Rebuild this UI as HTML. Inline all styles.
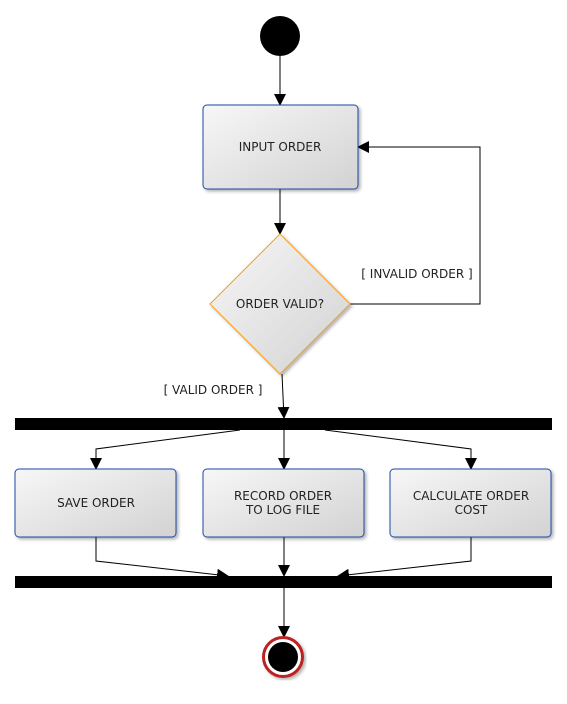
<!DOCTYPE html>
<html><head><style>body{margin:0;background:#fff}svg{display:block}text{font-family:"DejaVu Sans","Liberation Sans",sans-serif;font-size:12px;fill:#222}</style></head><body>
<svg width="567" height="704" viewBox="0 0 567 704">
<defs>
<linearGradient id="g" x1="0" y1="0" x2="1" y2="1"><stop offset="0" stop-color="#f7f7f7"/><stop offset="1" stop-color="#d2d2d2"/></linearGradient>
<marker id="a" markerWidth="12" markerHeight="12" refX="11" refY="6" orient="auto" markerUnits="userSpaceOnUse"><path d="M0,0 L12,6 L0,12 z" fill="#000"/></marker>
<filter id="s"><feDropShadow dx="2" dy="2" stdDeviation="1.5" flood-opacity="0.3"/></filter>
</defs>
<circle cx="280" cy="36" r="20" fill="#000"/>
<g fill="none" stroke="#000" stroke-width="1">
<path d="M280,56 V105" marker-end="url(#a)"/>
<path d="M280,189 V234" marker-end="url(#a)"/>
<path d="M350,304 H480 V147 H358" marker-end="url(#a)"/>
<path d="M282,374 L284,418" marker-end="url(#a)"/>
<path d="M240,430 L96,449 V469" marker-end="url(#a)"/>
<path d="M284,430 V469" marker-end="url(#a)"/>
<path d="M325,430 L471,449 V469" marker-end="url(#a)"/>
<path d="M96,537 V561 L228,576" marker-end="url(#a)"/>
<path d="M284,537 V576" marker-end="url(#a)"/>
<path d="M471,537 V561 L338,576" marker-end="url(#a)"/>
<path d="M284,588 V637" marker-end="url(#a)"/>
</g>
<g filter="url(#s)" stroke="#1a4aa8" stroke-width="1" fill="url(#g)">
<rect x="203" y="105" width="155" height="84" rx="4"/>
<rect x="15" y="469" width="161" height="68" rx="4"/>
<rect x="203" y="469" width="161" height="68" rx="4"/>
<rect x="390" y="469" width="161" height="68" rx="4"/>
<path d="M280,234 L350,304 L280,374 L210,304 Z" stroke="#f0a020"/>
</g>
<rect x="15" y="418" width="537" height="12" fill="#000"/>
<rect x="15" y="576" width="537" height="12" fill="#000"/>
<circle cx="283" cy="657" r="19.5" fill="#fff" stroke="#b22" stroke-width="3" filter="url(#s)"/>
<circle cx="283" cy="657" r="15" fill="#000"/>
<g text-anchor="middle">
<text x="280" y="151">INPUT ORDER</text>
<text x="280" y="308">ORDER VALID?</text>
<text x="96" y="507">SAVE ORDER</text>
<text x="283" y="500">RECORD ORDER</text>
<text x="283" y="514">TO LOG FILE</text>
<text x="471" y="500">CALCULATE ORDER</text>
<text x="471" y="514">COST</text>
<text x="417" y="278">[ INVALID ORDER ]</text>
<text x="213" y="394">[ VALID ORDER ]</text>
</g>
</svg>
</body></html>
